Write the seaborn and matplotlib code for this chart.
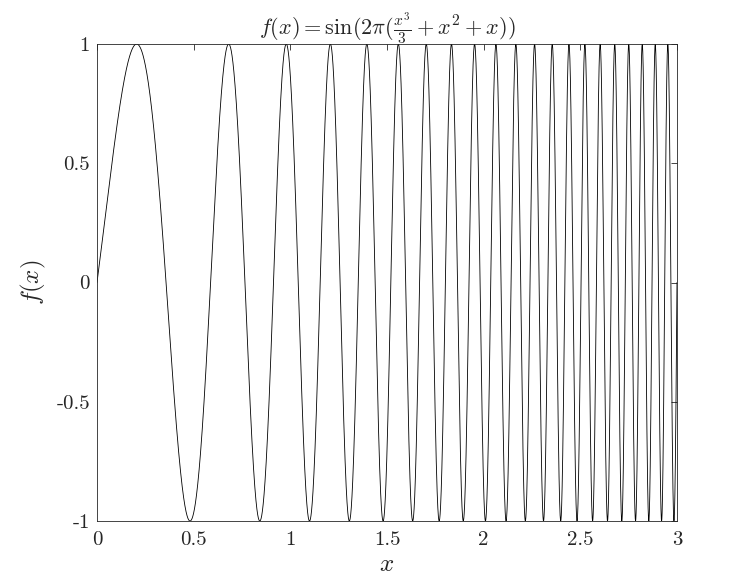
import numpy as np
import pandas as pd
import matplotlib
matplotlib.use("Agg")
import matplotlib.pyplot as plt
import seaborn as sns

# chart definition, read from the title: f(x) = sin(2*pi*(x^3/3 + x^2 + x))
poly_coeffs = [1 / 3, 1.0, 1.0, 0.0]   # x^3, x^2, x, const
x_range = [0.0, 3.0]
n_samples = 6000
x_ticks = [0, 0.5, 1, 1.5, 2, 2.5, 3]
x_tick_labels = ["0", "0.5", "1", "1.5", "2", "2.5", "3"]
y_ticks = [-1, -0.5, 0, 0.5, 1]
y_tick_labels = ["-1", "-0.5", "0", "0.5", "1"]

x = np.linspace(x_range[0], x_range[1], n_samples)
y = np.sin(2 * np.pi * np.polyval(poly_coeffs, x))
df = pd.DataFrame({"x": x, "y": y})

sns.set_theme(style="white")
plt.rcParams["font.family"] = ["serif"]
plt.rcParams["font.serif"] = ["cmr10", "DejaVu Serif"]
plt.rcParams["mathtext.fontset"] = "cm"
plt.rcParams["axes.unicode_minus"] = False

fig = plt.figure(figsize=(7.47, 5.86), dpi=100)
ax = fig.add_axes([97 / 747, 1 - 521 / 586, 580 / 747, 477 / 586])

sns.lineplot(data=df, x="x", y="y", ax=ax, color="black", linewidth=0.6,
             estimator=None, sort=False)

ax.set_xlim(x_range)
ax.set_ylim(-1, 1)
ax.set_xticks(x_ticks)
ax.set_xticklabels(x_tick_labels)
ax.set_yticks(y_ticks)
ax.set_yticklabels(y_tick_labels)
ax.tick_params(direction="in", length=4, width=0.6, colors="#262626",
               labelsize=15, top=True, right=True)
ax.tick_params(axis="x", pad=7)
ax.tick_params(axis="y", pad=5)
for sp in ax.spines.values():
    sp.set_visible(True)
    sp.set_color("#262626")
    sp.set_linewidth(0.6)

ax.set_xlabel(r"$x$", fontsize=18, labelpad=4)
ax.set_ylabel(r"$f(x)$", fontsize=18, labelpad=6)
ax.set_title(r"$f(x) = \sin(2\pi(\frac{x^3}{3} + x^2 + x))$", fontsize=16, pad=6)

fig.savefig("out.png", dpi=100)
plt.close(fig)
